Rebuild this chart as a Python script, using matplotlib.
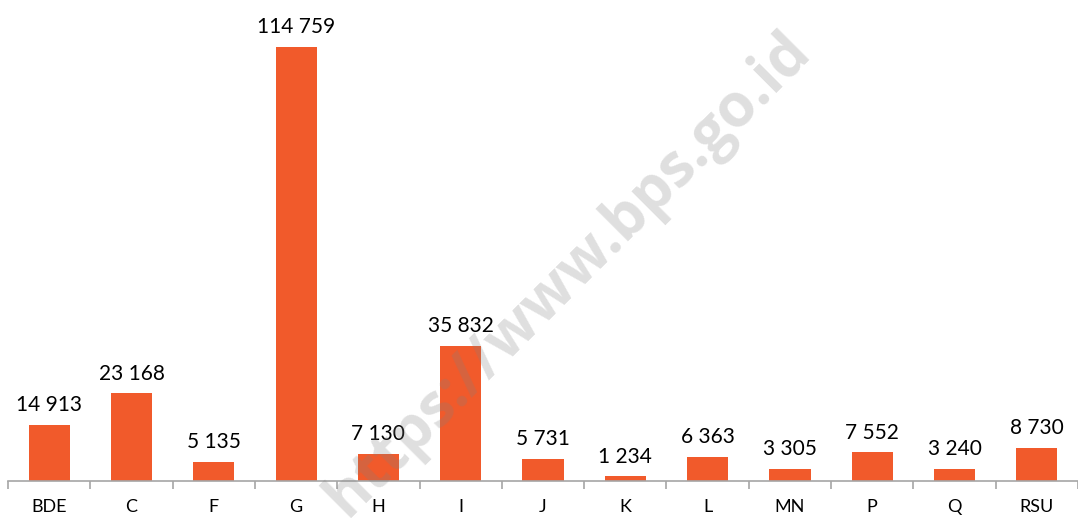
import matplotlib.pyplot as plt

# Data ---------------------------------------------------------------------
categories = ["BDE", "C", "F", "G", "H", "I", "J", "K", "L", "MN", "P", "Q", "RSU"]
values = [14913, 23168, 5135, 114759, 7130, 35832, 5731, 1234, 6363, 3305, 7552, 3240, 8730]

bar_color = "#F15A2B"
axis_color = "#A6A6A6"

plt.rcParams["font.family"] = ["Lato", "DejaVu Sans"]

fig = plt.figure(figsize=(10.78, 5.18), dpi=100)
ax = fig.add_axes([8 / 1078, 37 / 518, 1 - 8 / 1078, 1 - 37 / 518])

x = list(range(len(categories)))
bars = ax.bar(x, values, width=0.5, color=bar_color, zorder=2)

# value labels in "14 913" format
for xi, v in zip(x, values):
    ax.text(xi, v + 2600, f"{v:,}".replace(",", " "), ha="center", va="bottom",
            fontsize=15, color="black")

ax.set_xlim(-0.5, len(categories) - 0.5)
ax.set_ylim(0, 127200)

for side in ["top", "right", "left"]:
    ax.spines[side].set_visible(False)
ax.spines["bottom"].set_color(axis_color)
ax.spines["bottom"].set_linewidth(1.2)

ax.set_yticks([])
ax.set_xticks(x)
ax.set_xticklabels(categories, fontsize=13)
ax.tick_params(axis="x", length=0, pad=13)
# boundary tick marks between categories
ax.set_xticks([i - 0.5 for i in range(len(categories) + 1)], minor=True)
ax.tick_params(axis="x", which="minor", length=6, width=1.2, color=axis_color, direction="out")

# watermark
fig.text(0.527, 0.47, "https://www.bps.go.id", rotation=45, ha="center", va="center",
         fontsize=43, fontweight="bold", color="#808080", alpha=0.25,
         family=["Open Sans", "DejaVu Sans"])

fig.savefig("out.png", dpi=100)
